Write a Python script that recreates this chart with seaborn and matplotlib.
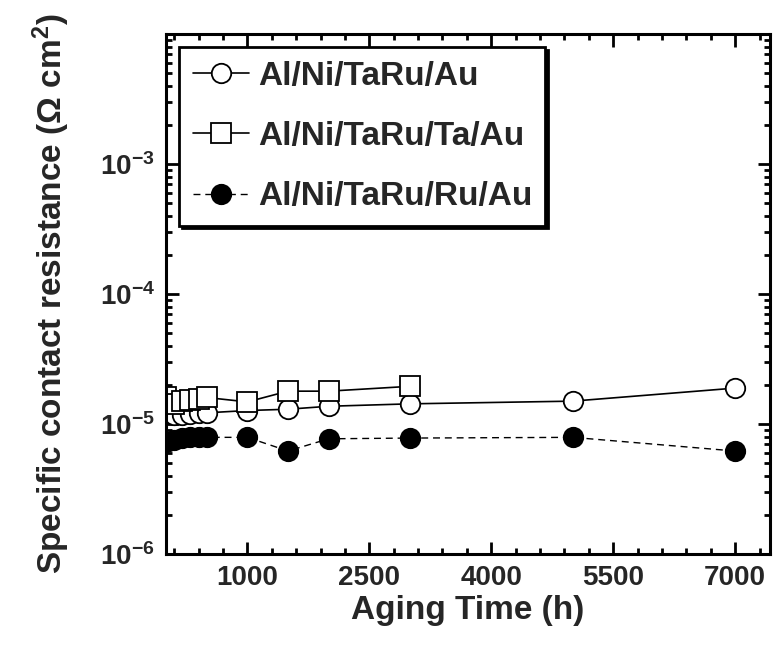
import numpy as np
import matplotlib
matplotlib.use("Agg")
import matplotlib.pyplot as plt
import seaborn as sns
from matplotlib.ticker import FixedLocator, LogLocator, NullFormatter, FixedFormatter

# ---- data ----
time_taru = [0, 100, 200, 300, 400, 500, 1000, 1500, 2000, 3000, 5000, 7000]
rc_taru = [1.20e-5, 1.17e-5, 1.17e-5, 1.20e-5, 1.22e-5, 1.22e-5, 1.27e-5, 1.30e-5, 1.37e-5, 1.43e-5, 1.50e-5, 1.89e-5]

time_ta = [0, 100, 200, 300, 400, 500, 1000, 1500, 2000, 3000]
rc_ta = [1.60e-5, 1.43e-5, 1.50e-5, 1.52e-5, 1.55e-5, 1.60e-5, 1.48e-5, 1.79e-5, 1.79e-5, 1.95e-5]

time_ru = [0, 100, 200, 300, 400, 500, 1000, 1500, 2000, 3000, 5000, 7000]
rc_ru = [7.3e-6, 7.6e-6, 7.8e-6, 7.9e-6, 7.9e-6, 7.9e-6, 7.9e-6, 6.2e-6, 7.7e-6, 7.8e-6, 7.9e-6, 6.2e-6]

labels = ["Al/Ni/TaRu/Au", "Al/Ni/TaRu/Ta/Au", "Al/Ni/TaRu/Ru/Au"]
xticks = [1000, 2500, 4000, 5500, 7000]
yticks = [1e-6, 1e-5, 1e-4, 1e-3]

sns.set_theme(style="ticks")
plt.rcParams["font.family"] = ["Liberation Sans", "DejaVu Sans"]
plt.rcParams["font.weight"] = "bold"
plt.rcParams["axes.labelweight"] = "bold"
plt.rcParams["mathtext.fontset"] = "custom"
plt.rcParams["mathtext.rm"] = "Liberation Sans:bold"
plt.rcParams["mathtext.it"] = "Liberation Sans:bold"
plt.rcParams["mathtext.bf"] = "Liberation Sans:bold"
plt.rcParams["mathtext.default"] = "rm"

fig = plt.figure(figsize=(7.74, 6.48), dpi=100)
ax = fig.add_axes([0.2145, 0.145, 0.7805, 0.8025])

ms = 14
sns.lineplot(x=time_taru, y=rc_taru, ax=ax, color="black", linewidth=1.2,
             marker="o", markersize=ms, markerfacecolor="white",
             markeredgecolor="black", markeredgewidth=1.3, label=labels[0])
sns.lineplot(x=time_ta, y=rc_ta, ax=ax, color="black", linewidth=1.2,
             marker="s", markersize=ms, markerfacecolor="white",
             markeredgecolor="black", markeredgewidth=1.3, label=labels[1])
sns.lineplot(x=time_ru, y=rc_ru, ax=ax, color="black", linewidth=1.0,
             linestyle=(0, (5, 3.5)),
             marker="o", markersize=ms, markerfacecolor="black",
             markeredgecolor="black", markeredgewidth=1.3, label=labels[2])

ax.set_yscale("log")
ax.set_xlim(0, 7430)
ax.set_ylim(1e-6, 1e-2)

ax.xaxis.set_major_locator(FixedLocator(xticks))
ax.xaxis.set_minor_locator(FixedLocator(list(range(100, 7430, 300))))
ax.yaxis.set_major_locator(FixedLocator(yticks))
ax.yaxis.set_minor_locator(LogLocator(base=10, subs=np.arange(2, 10)))
ax.yaxis.set_minor_formatter(NullFormatter())
ax.yaxis.set_major_formatter(FixedFormatter([r"$10^{-6}$", r"$10^{-5}$", r"$10^{-4}$", r"$10^{-3}$"]))

ax.tick_params(which="both", direction="in", top=True, right=True, width=2, color="black")
ax.tick_params(which="major", length=9, labelsize=20, pad=8)
ax.tick_params(which="minor", length=4.5)
for lab in ax.get_xticklabels() + ax.get_yticklabels():
    lab.set_fontweight("bold")

for s in ax.spines.values():
    s.set_linewidth(2.2)
    s.set_color("black")

ax.set_xlabel("Aging Time (h)", fontsize=24, fontweight="bold", labelpad=3)
ax.set_ylabel(r"Specific contact resistance ($\Omega$ cm$^{2}$)", fontsize=24,
              fontweight="bold", labelpad=20)
ax.grid(False)

leg = ax.legend(loc="upper left", fontsize=24, frameon=True, fancybox=False,
                shadow={"color": "black", "alpha": 1.0}, handlelength=1.7,
                handletextpad=0.25, labelspacing=0.88, borderpad=0.4,
                borderaxespad=0.4)
leg.get_frame().set_edgecolor("black")
leg.get_frame().set_linewidth(2)
for t in leg.get_texts():
    t.set_fontweight("bold")

fig.savefig("out.png", dpi=100)
